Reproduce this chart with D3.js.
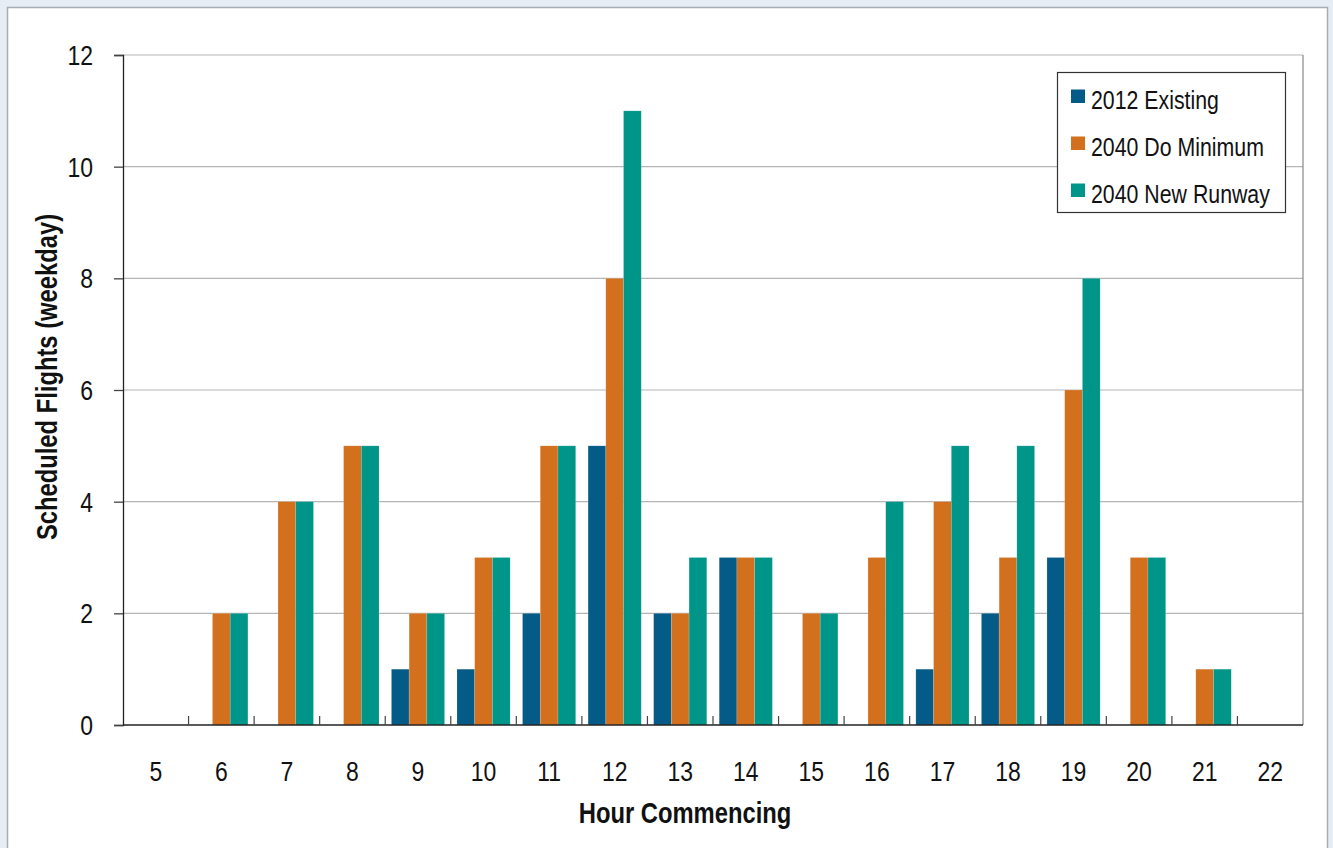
<!DOCTYPE html>
<html>
<head>
<meta charset="utf-8">
<script src="https://cdn.jsdelivr.net/npm/d3@7"></script>
<style>
  body { margin: 0; background: #e6edf4; }
  svg text { font-family: "Liberation Sans", Arial, sans-serif; fill: #111; }
</style>
</head>
<body>
<div id="chart"></div>
<script>
// Data
const hours = [5, 6, 7, 8, 9, 10, 11, 12, 13, 14, 15, 16, 17, 18, 19, 20, 21, 22];
const existing2012 = [0, 0, 0, 0, 1, 1, 2, 5, 2, 3, 0, 0, 1, 2, 3, 0, 0, 0];
const doMinimum2040 = [0, 2, 4, 5, 2, 3, 5, 8, 2, 3, 2, 3, 4, 3, 6, 3, 1, 0];
const newRunway2040 = [0, 2, 4, 5, 2, 3, 5, 11, 3, 3, 2, 4, 5, 5, 8, 3, 1, 0];
const seriesNames = ["2012 Existing", "2040 Do Minimum", "2040 New Runway"];
const yTicks = [0, 2, 4, 6, 8, 10, 12];

const colors = ["#045b87", "#d2701e", "#009589"];
const seriesValues = [existing2012, doMinimum2040, newRunway2040];

const W = 1333, H = 848;
const margin = { top: 55, right: 30, bottom: 123, left: 123 };
const width = 1303 - margin.left;
const height = 725 - margin.top;
const squeeze = 0.82; // condensed look

const root = d3.select("#chart")
  .append("svg")
  .attr("width", W)
  .attr("height", H);

// condensed text helper
function label(parent, x, y, str, size, anchor, weight, rotate) {
  return parent.append("text")
    .attr("transform", `translate(${x},${y})${rotate ? " rotate(-90)" : ""} scale(${squeeze},1)`)
    .attr("text-anchor", anchor || "start")
    .style("font-size", size + "px")
    .style("font-weight", weight || "normal")
    .text(str);
}

// white panel
root.append("rect")
  .attr("x", 7.5).attr("y", 7.5)
  .attr("width", 1320).attr("height", 860)
  .attr("fill", "#fff")
  .attr("stroke", "#a9adb2")
  .attr("stroke-width", 1.5);

const svg = root.append("g")
  .attr("transform", `translate(${margin.left},${margin.top})`);

// Scales
const x = d3.scaleBand()
  .domain(hours)
  .range([0, width]);

const xInner = d3.scaleBand()
  .domain(d3.range(seriesNames.length))
  .range([0, x.bandwidth()])
  .paddingInner(0)
  .paddingOuter(0.35);

const y = d3.scaleLinear()
  .domain([0, 12])
  .range([height, 0]);

// Gridlines
svg.append("g")
  .selectAll("line")
  .data(yTicks.filter(d => d > 0))
  .join("line")
  .attr("x1", 0).attr("x2", width)
  .attr("y1", d => y(d)).attr("y2", d => y(d))
  .attr("stroke", "#b5b5b5")
  .attr("stroke-width", 1.2);

// Right frame of plot
svg.append("line")
  .attr("x1", width).attr("x2", width)
  .attr("y1", 0).attr("y2", height)
  .attr("stroke", "#888").attr("stroke-width", 1.2);

// Bars
const groups = svg.append("g")
  .selectAll("g")
  .data(hours)
  .join("g")
  .attr("transform", d => `translate(${x(d)},0)`);

groups.selectAll("rect")
  .data((d, i) => seriesValues.map((vals, s) => ({ s, v: vals[i] })))
  .join("rect")
  .attr("x", d => xInner(d.s))
  .attr("y", d => y(d.v))
  .attr("width", xInner.bandwidth())
  .attr("height", d => height - y(d.v))
  .attr("fill", d => colors[d.s])
  .attr("stroke", "rgba(255,255,255,0.25)")
  .attr("stroke-width", 0.6);

// Y axis (ticks only, labels drawn condensed)
const yAxis = svg.append("g")
  .call(d3.axisLeft(y).tickValues(yTicks).tickSize(9).tickFormat(""));
yAxis.select(".domain").attr("stroke", "#222").attr("stroke-width", 1.3);
yAxis.selectAll(".tick line").attr("stroke", "#444").attr("stroke-width", 1.3);
yTicks.forEach(t => label(svg, -30, y(t) + 10, t, 28, "end"));

// X axis: ticks at band boundaries, pointing up
const xAxis = svg.append("g")
  .attr("transform", `translate(0,${height})`);
xAxis.append("line")
  .attr("x1", 0).attr("x2", width)
  .attr("stroke", "#222").attr("stroke-width", 1.5);
xAxis.selectAll(".bt")
  .data(hours.slice(1))
  .join("line")
  .attr("class", "bt")
  .attr("x1", d => x(d)).attr("x2", d => x(d))
  .attr("y1", 0).attr("y2", -9)
  .attr("stroke", "#444").attr("stroke-width", 1.2);
hours.forEach(h => label(xAxis, x(h) + x.bandwidth() / 2, 56, h, 28, "middle"));

// Axis titles
label(root, 685, 823, "Hour Commencing", 29, "middle", "bold");
label(root, 57, 377, "Scheduled Flights (weekday)", 29, "middle", "bold", true);

// Legend
const legend = root.append("g").attr("transform", "translate(1057.5,72.5)");
legend.append("rect")
  .attr("width", 228).attr("height", 140)
  .attr("fill", "#fff")
  .attr("stroke", "#333").attr("stroke-width", 1.2);
const items = legend.selectAll(".item")
  .data(seriesNames)
  .join("g")
  .attr("class", "item")
  .attr("transform", (d, i) => `translate(13.5,${17 + i * 47})`);
items.append("rect")
  .attr("width", 14).attr("height", 13.5)
  .attr("fill", (d, i) => colors[i]);
items.each(function (d) {
  label(d3.select(this), 20, 19.5, d, 26, "start");
});
</script>
</body>
</html>
